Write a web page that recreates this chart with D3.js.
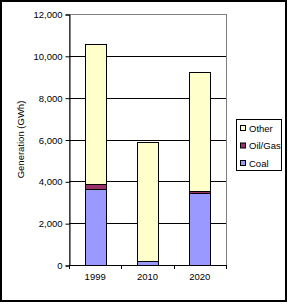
<!DOCTYPE html>
<html>
<head>
<meta charset="utf-8">
<script src="https://cdn.jsdelivr.net/npm/d3@7"></script>
<style>
  body { margin: 0; background: #fff; }
  text { font-family: "Liberation Sans", Arial, sans-serif; font-size: 9.5px; fill: #000; }
</style>
</head>
<body>
<div id="chart"></div>
<script>
const years = ["1999", "2010", "2020"];
const coal = [3650, 190, 3430];
const oilGas = [200, 10, 110];
const other = [6700, 5680, 5690];
const yTicks = [0, 2000, 4000, 6000, 8000, 10000, 12000];
const keys = ["Coal", "Oil/Gas", "Other"];
const legendOrder = ["Other", "Oil/Gas", "Coal"];

const W = 288, H = 304;
const plot = { left: 69, top: 14, right: 226, bottom: 265 };

const svg = d3.select("#chart")
  .append("svg")
  .attr("width", W)
  .attr("height", H);

// outer frame
svg.append("rect")
  .attr("x", 1).attr("y", 1)
  .attr("width", W - 3).attr("height", H - 4)
  .attr("fill", "#fff")
  .attr("stroke", "#000")
  .attr("stroke-width", 2);

const rows = years.map((yr, i) => ({ year: yr, "Coal": coal[i], "Oil/Gas": oilGas[i], "Other": other[i] }));

const x = d3.scaleBand()
  .domain(years)
  .range([plot.left, plot.right])
  .paddingInner(0.6)
  .paddingOuter(0.3);

const xCat = d3.scaleBand()
  .domain(years)
  .range([plot.left, plot.right]);

const y = d3.scaleLinear()
  .domain([0, 12000])
  .range([plot.bottom, plot.top]);

const color = d3.scaleOrdinal()
  .domain(keys)
  .range(["#9999ff", "#993366", "#ffffcc"]);

// plot area border (gray top/right)
svg.append("rect")
  .attr("x", plot.left + 0.5).attr("y", plot.top + 0.5)
  .attr("width", plot.right - plot.left).attr("height", plot.bottom - plot.top)
  .attr("fill", "#fff")
  .attr("stroke", "#808080");

// gridlines
svg.append("g")
  .selectAll("line")
  .data(yTicks.filter(d => d > 0 && d < 12000))
  .join("line")
  .attr("x1", plot.left).attr("x2", plot.right)
  .attr("y1", d => Math.round(y(d)) + 0.5)
  .attr("y2", d => Math.round(y(d)) + 0.5)
  .attr("stroke", "#000");

// bars
const stacked = d3.stack().keys(keys)(rows);
svg.append("g")
  .selectAll("g")
  .data(stacked)
  .join("g")
  .attr("fill", d => color(d.key))
  .selectAll("rect")
  .data(d => d)
  .join("rect")
  .attr("x", d => Math.round(x(d.data.year)) + 0.5)
  .attr("y", d => Math.round(y(d[1])) + 0.5)
  .attr("width", Math.round(x.bandwidth()))
  .attr("height", d => Math.max(0, Math.round(y(d[0])) - Math.round(y(d[1]))))
  .attr("stroke", "#000")
  .attr("stroke-width", 1);

// y axis
const yAxis = svg.append("g")
  .attr("transform", `translate(${plot.left + 0.5},0.5)`)
  .call(d3.axisLeft(y).tickValues(yTicks).tickFormat(d3.format(",")).tickSize(4).tickPadding(3));
yAxis.select(".domain").attr("stroke", "#000");
yAxis.selectAll("text").style("font-size", "9.5px").attr("font-family", null);

// x axis with ticks at category boundaries
svg.append("line")
  .attr("x1", plot.left).attr("x2", plot.right)
  .attr("y1", plot.bottom + 0.5).attr("y2", plot.bottom + 0.5)
  .attr("stroke", "#000");
const bounds = years.map(d => xCat(d)).concat([plot.right]);
svg.append("g")
  .selectAll("line")
  .data(bounds)
  .join("line")
  .attr("x1", d => Math.round(d) + 0.5).attr("x2", d => Math.round(d) + 0.5)
  .attr("y1", plot.bottom).attr("y2", plot.bottom + 4)
  .attr("stroke", "#000");
svg.append("g")
  .selectAll("text")
  .data(years)
  .join("text")
  .attr("x", d => xCat(d) + xCat.bandwidth() / 2)
  .attr("y", plot.bottom + 15)
  .attr("text-anchor", "middle")
  .text(d => d);

// y label
svg.append("text")
  .attr("text-anchor", "middle")
  .attr("transform", `translate(24,${(plot.top + plot.bottom) / 2})rotate(-90)`)
  .text("Generation (GWh)");

// legend
const lg = svg.append("g").attr("transform", "translate(236,119)");
lg.append("rect")
  .attr("x", 0.5).attr("y", 0.5)
  .attr("width", 45).attr("height", 51)
  .attr("fill", "#fff")
  .attr("stroke", "#000");
const item = lg.selectAll(".item")
  .data(legendOrder)
  .join("g")
  .attr("transform", (d, i) => `translate(0,${9 + i * 17.5})`);
item.append("rect")
  .attr("x", 4.5).attr("y", -2.5)
  .attr("width", 5).attr("height", 5)
  .attr("fill", d => color(d))
  .attr("stroke", "#000");
item.append("text")
  .attr("x", 13)
  .attr("y", 3.5)
  .text(d => d);
</script>
</body>
</html>
